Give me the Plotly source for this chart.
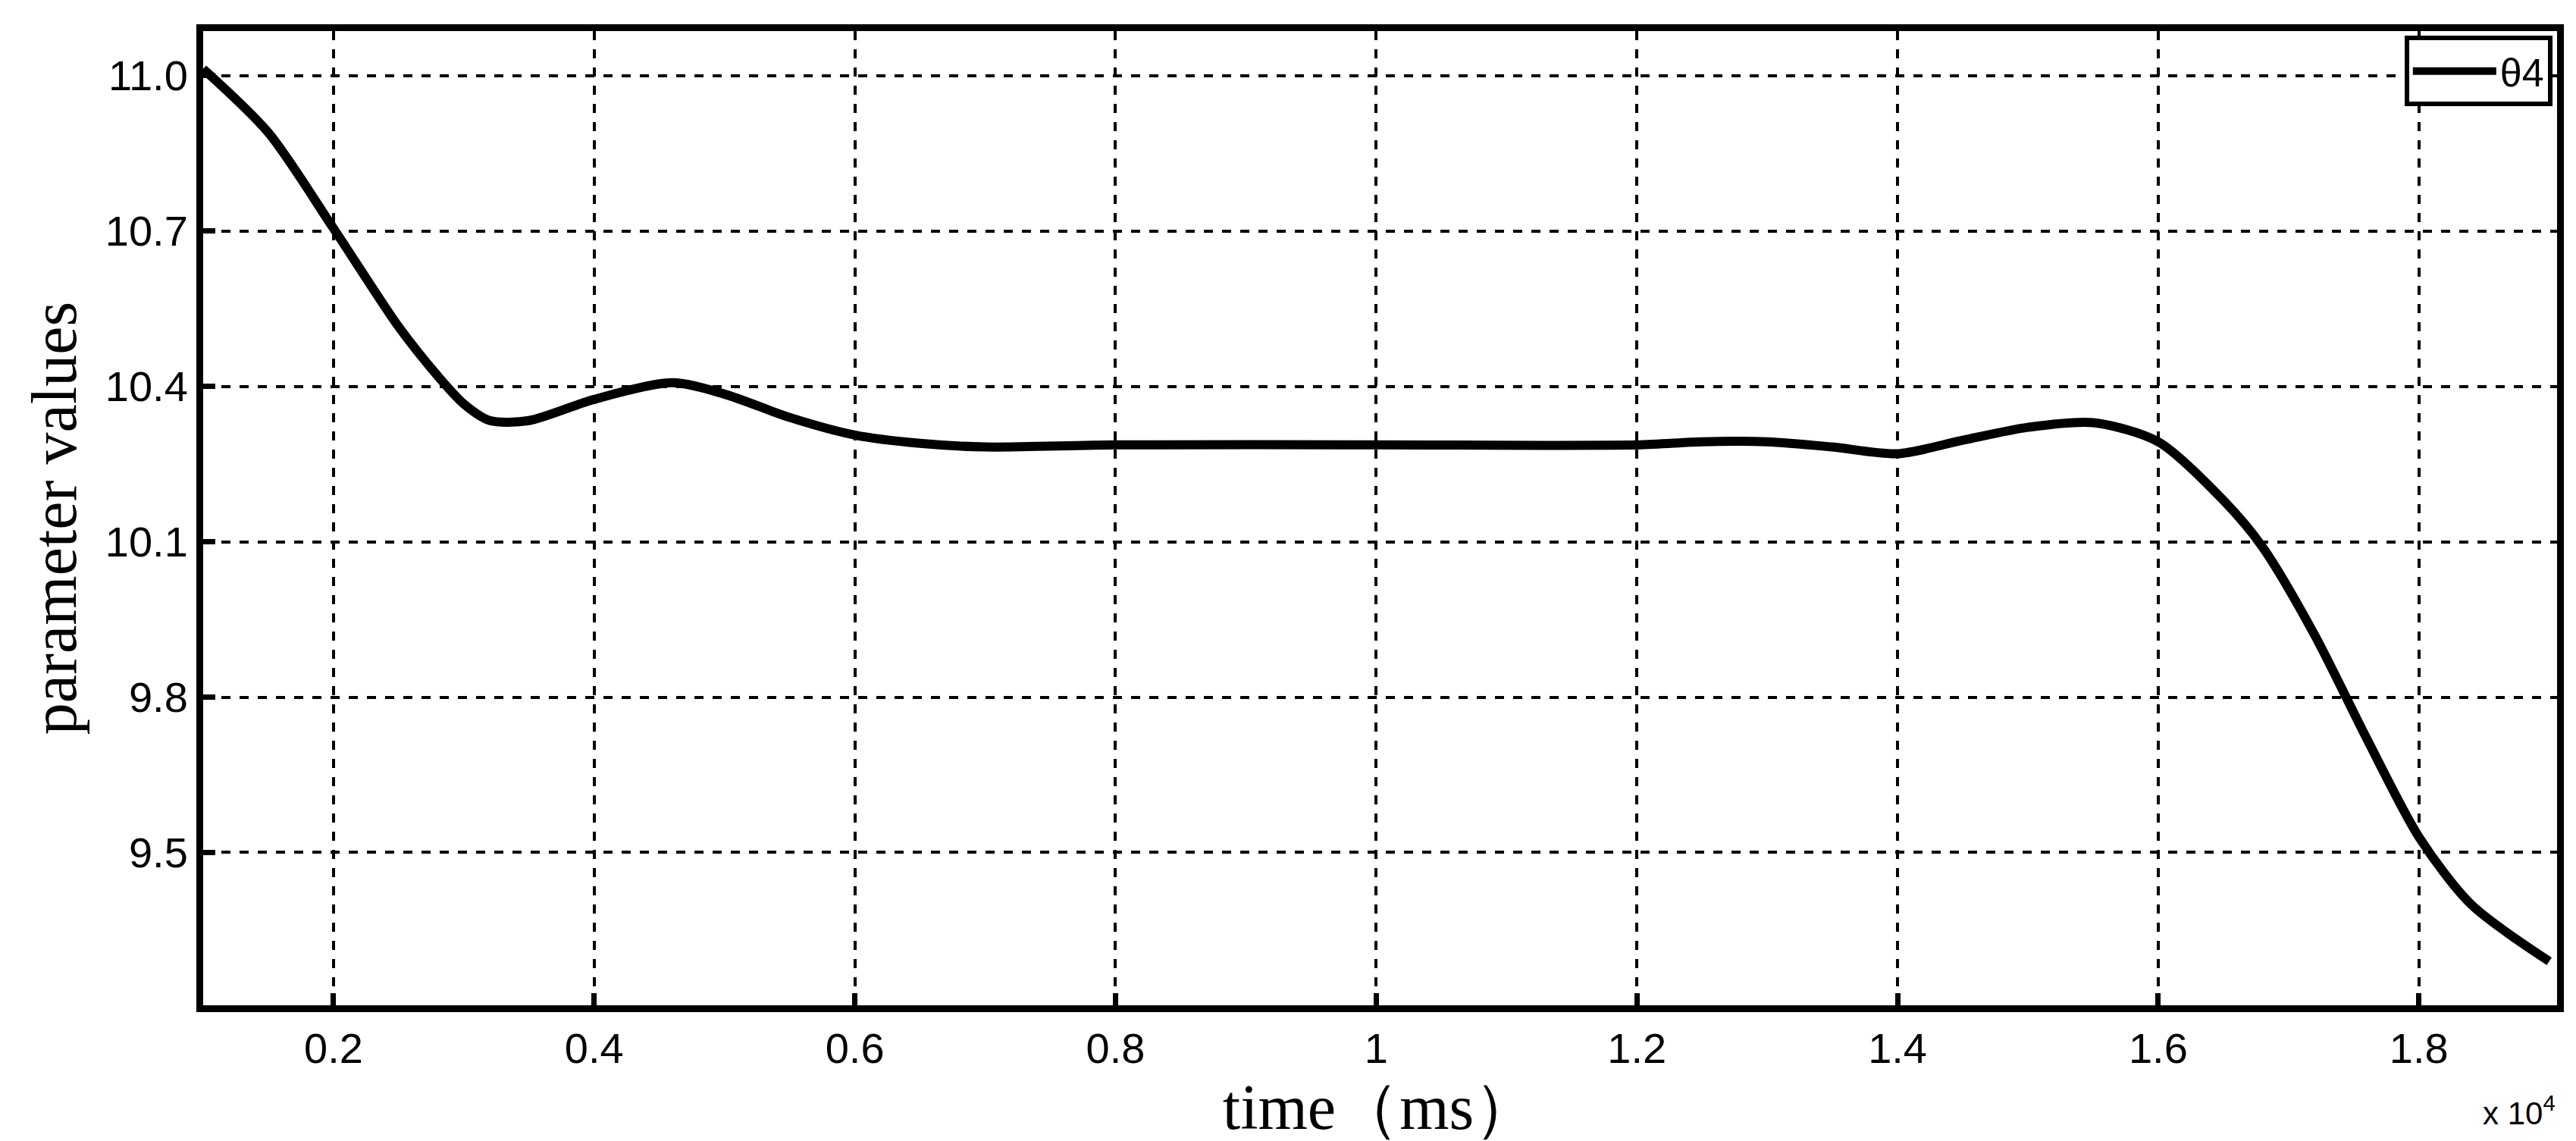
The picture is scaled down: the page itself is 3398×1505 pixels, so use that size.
import plotly.graph_objects as go

time_1e4 = [0.1, 0.15, 0.2, 0.25, 0.28, 0.3, 0.32, 0.35, 0.4, 0.46, 0.5, 0.55, 0.6, 0.65, 0.7, 0.8, 1.0, 1.2,
            1.25, 1.3, 1.35, 1.4, 1.45, 1.5, 1.55, 1.6, 1.65, 1.68, 1.72, 1.76, 1.8, 1.84, 1.9]
theta4 = [11.013, 10.89, 10.705, 10.515, 10.42, 10.366, 10.334, 10.334, 10.375, 10.407, 10.385, 10.34, 10.306,
          10.29, 10.283, 10.287, 10.287, 10.287, 10.293, 10.293, 10.283, 10.27, 10.296, 10.321, 10.33, 10.293,
          10.18, 10.09, 9.92, 9.72, 9.53, 9.40, 9.29]
x_ticks = [0.2, 0.4, 0.6, 0.8, 1.0, 1.2, 1.4, 1.6, 1.8]
x_tick_labels = ["0.2", "0.4", "0.6", "0.8", "1", "1.2", "1.4", "1.6", "1.8"]
y_ticks = [9.5, 9.8, 10.1, 10.4, 10.7, 11.0]
y_tick_labels = ["9.5", "9.8", "10.1", "10.4", "10.7", "11.0"]

fig = go.Figure()
fig.add_trace(go.Scatter(x=time_1e4, y=theta4, mode="lines", name="θ4",
                         line=dict(color="black", width=12, shape="spline", smoothing=0.8)))

axis_common = dict(showline=True, linecolor="black", linewidth=9, mirror=True,
                   showgrid=True, gridcolor="black", griddash="dash", gridwidth=4,
                   ticks="inside", ticklen=16, tickwidth=7, tickcolor="black",
                   zeroline=False,
                   tickfont=dict(family="Liberation Sans Narrow, Liberation Sans, Arial", size=56, color="black"))
fig.update_xaxes(range=[0.1, 1.906], tickvals=x_ticks, ticktext=x_tick_labels,
                 title=dict(text="time（ms）", font=dict(family="Liberation Serif, Times New Roman", size=84, color="black"), standoff=6),
                 **axis_common)
fig.update_yaxes(range=[9.205, 11.086], tickvals=y_ticks, ticktext=y_tick_labels,
                 title=dict(text="parameter values", font=dict(family="Liberation Serif, Times New Roman", size=84, color="black"), standoff=14),
                 **axis_common)

fig.add_annotation(x=1, y=0, xref="paper", yref="paper", xanchor="right", yanchor="top", yshift=-110,
                   text="x 10<sup>4</sup>", showarrow=False,
                   font=dict(family="Liberation Sans Narrow, Liberation Sans, Arial", size=42, color="black"))

fig.update_layout(width=3398, height=1505, plot_bgcolor="white", paper_bgcolor="white",
                  margin=dict(l=260, r=33, t=33, b=187),
                  legend=dict(x=0.998, y=0.995, xanchor="right", yanchor="top", bgcolor="white",
                              bordercolor="black", borderwidth=6, itemwidth=110,
                              font=dict(family="Liberation Sans, Arial", size=52, color="black")),
                  showlegend=True)
fig.write_html("out.html")
